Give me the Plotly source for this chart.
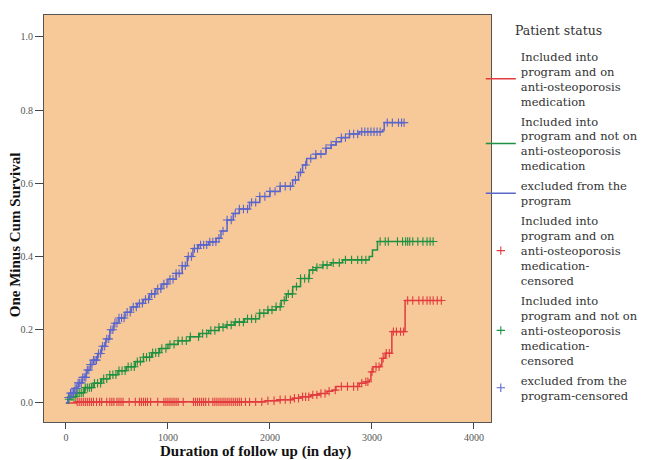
import numpy as np
import plotly.graph_objects as go

# ---- data ----
legend_title = "Patient status"
group_names = [
    "Included into<br>program and on<br>anti-osteoporosis<br>medication",
    "Included into<br>program and not on<br>anti-osteoporosis<br>medication",
    "excluded from the<br>program",
]
censor_names = [
    "Included into<br>program and on<br>anti-osteoporosis<br>medication-<br>censored",
    "Included into<br>program and not on<br>anti-osteoporosis<br>medication-<br>censored",
    "excluded from the<br>program-censored",
]
x_title = "Duration of follow up (in day)"
y_title = "One Minus Cum Survival"

red_t = [0, 100, 1960, 2100, 2223, 2300, 2400, 2484, 2560, 2614, 2647, 2875, 2940, 2973,
         2990, 3010, 3087, 3097, 3130, 3185, 3195, 3325, 3690]
red_y = [0.0, 0.003, 0.006, 0.009, 0.013, 0.017, 0.022, 0.026, 0.032, 0.035, 0.045, 0.054, 0.058, 0.063,
         0.085, 0.099, 0.104, 0.122, 0.136, 0.136, 0.195, 0.280, 0.280]

green_t = [0, 20, 40, 100, 180, 267, 350, 430, 510, 593, 680, 760, 840, 919, 1000, 1100, 1213,
           1310, 1400, 1500, 1571, 1650, 1750, 1897, 1980, 2060, 2110, 2160, 2223, 2300, 2386,
           2450, 2516, 2600, 2712, 2973, 3005, 3054, 3609]
green_y = [0.0, 0.010, 0.017, 0.028, 0.042, 0.054, 0.066, 0.077, 0.088, 0.099, 0.113, 0.125, 0.137,
           0.149, 0.160, 0.170, 0.181, 0.190, 0.198, 0.207, 0.213, 0.221, 0.230, 0.245, 0.254, 0.263,
           0.280, 0.298, 0.318, 0.340, 0.363, 0.370, 0.377, 0.383, 0.391, 0.400, 0.418, 0.441, 0.441]

blue_t = [0, 20, 40, 80, 120, 160, 200, 240, 270, 310, 350, 390, 430, 470, 520, 580, 640, 700,
          760, 820, 880, 940, 1000, 1080, 1140, 1190, 1245, 1300, 1400, 1473, 1520, 1580, 1640,
          1700, 1800, 1900, 2000, 2100, 2223, 2280, 2320, 2360, 2450, 2549, 2600, 2647, 2700,
          2780, 2875, 3103, 3120, 3315]
blue_y = [0.0, 0.015, 0.027, 0.040, 0.055, 0.070, 0.090, 0.105, 0.117, 0.135, 0.155, 0.175, 0.200,
          0.218, 0.232, 0.248, 0.262, 0.272, 0.283, 0.298, 0.312, 0.325, 0.338, 0.354, 0.375, 0.400,
          0.422, 0.432, 0.440, 0.450, 0.470, 0.500, 0.518, 0.530, 0.548, 0.564, 0.578, 0.592, 0.609,
          0.630, 0.650, 0.668, 0.680, 0.696, 0.705, 0.714, 0.725, 0.735, 0.741, 0.746, 0.766, 0.766]

red_cens = [110, 130, 150, 170, 190, 210, 230, 250, 270, 300, 330, 350, 400, 430, 450, 470, 500,
            520, 540, 560, 620, 680, 720, 740, 760, 780, 800, 830, 900, 960, 980, 1000, 1020,
            1040, 1060, 1080, 1100, 1150, 1250, 1270, 1290, 1310, 1330, 1350, 1370, 1400, 1440,
            1460, 1480, 1500, 1520, 1540, 1560, 1580, 1600, 1620, 1640, 1660, 1680, 1700, 1720,
            1760, 1800, 1860, 1920, 1980, 2040, 2100, 2150, 2200, 2240, 2280, 2320, 2350, 2380,
            2420, 2460, 2500, 2540, 2580, 2640, 2700, 2760, 2820, 2860, 2900, 2940, 2960, 3000,
            3040, 3070, 3110, 3140, 3170, 3210, 3240, 3280, 3310, 3350, 3400, 3460, 3500, 3540,
            3570, 3600, 3640, 3680]
green_cens = [30, 50, 70, 90, 110, 130, 150, 170, 190, 210, 230, 250, 280, 310, 340, 370, 400,
              430, 460, 490, 520, 550, 580, 610, 640, 670, 700, 730, 760, 790, 820, 850, 880,
              910, 940, 980, 1020, 1060, 1100, 1140, 1180, 1220, 1300, 1340, 1380, 1420, 1460,
              1500, 1540, 1580, 1620, 1660, 1700, 1740, 1780, 1820, 1860, 1900, 1940, 1980, 2020,
              2060, 2100, 2140, 2180, 2220, 2260, 2300, 2340, 2380, 2420, 2460, 2520, 2560, 2620,
              2680, 2740, 2800, 2860, 2900, 2940, 3080, 3130, 3160, 3250, 3300, 3330, 3350, 3370,
              3400, 3450, 3500, 3540, 3570, 3600]
blue_cens = [25, 45, 60, 75, 90, 105, 120, 135, 150, 165, 180, 195, 210, 225, 240, 255, 270, 285,
             300, 320, 340, 360, 380, 400, 420, 440, 460, 480, 500, 520, 545, 570, 600, 630, 660,
             690, 720, 750, 780, 810, 840, 870, 900, 930, 960, 990, 1020, 1050, 1080, 1110, 1140,
             1170, 1200, 1230, 1260, 1290, 1320, 1350, 1380, 1410, 1440, 1470, 1500, 1540, 1580,
             1620, 1660, 1700, 1740, 1780, 1820, 1860, 1900, 1950, 2000, 2050, 2100, 2150, 2200,
             2250, 2300, 2350, 2400, 2450, 2500, 2550, 2600, 2650, 2700, 2740, 2780, 2820, 2860,
             2900, 2930, 2960, 2990, 3020, 3050, 3080, 3150, 3200, 3260, 3290, 3315]

x_ticks = [0, 1000, 2000, 3000, 4000]
y_ticks = [0.0, 0.2, 0.4, 0.6, 0.8, 1.0]

colors = ["#E23B3F", "#1F9142", "#5B66CC"]
bg = "#F7C898"
serif = "Liberation Serif"
legend_font = "DejaVu Serif"


def step_value(ts, ys, t):
    idx = np.searchsorted(np.asarray(ts), t, side="right") - 1
    return np.asarray(ys)[idx]


fig = go.Figure()
curves = [(red_t, red_y), (green_t, green_y), (blue_t, blue_y)]
cens = [red_cens, green_cens, blue_cens]

for i, ((t, y), name, c) in enumerate(zip(curves, group_names, colors)):
    fig.add_trace(go.Scatter(x=t, y=y, mode="lines", line=dict(color=c, width=1.5, shape="hv"),
                             name=name, legendgroup=f"g{i}", hoverinfo="skip"))

for i, ((t, y), ct, name, c) in enumerate(zip(curves, cens, censor_names, colors)):
    cy = step_value(t, y, np.asarray(ct))
    fig.add_trace(go.Scatter(x=ct, y=cy, mode="markers", name=name, legendgroup=f"c{i}",
                             marker=dict(symbol="cross-thin", size=6, color=c,
                                         line=dict(width=1.1, color=c)),
                             hoverinfo="skip"))

fig.update_layout(
    width=641, height=452,
    margin=dict(l=36, r=157, t=7, b=38),
    paper_bgcolor="white",
    plot_bgcolor=bg,
    font=dict(family=serif, color="#222"),
    showlegend=True,
    legend=dict(
        x=0.975, xanchor="left", y=0.933, yanchor="top",
        font=dict(size=11.5, family=legend_font, color="#333"),
        itemwidth=30, tracegroupgap=2, valign="middle",
        bgcolor="rgba(0,0,0,0)",
    ),
    xaxis=dict(
        range=[-215, 4167], tickvals=x_ticks, ticktext=[str(v) for v in x_ticks],
        ticks="outside", ticklen=6, tickcolor="#444", showgrid=False, zeroline=False,
        showline=True, linecolor="#555", linewidth=1.2, mirror=True, automargin=False,
        tickfont=dict(size=10, family=serif, color="#555"),
    ),
    yaxis=dict(
        range=[-0.052, 1.060], tickvals=y_ticks, ticktext=[f"{v:.1f}" for v in y_ticks],
        ticks="outside", ticklen=8, tickcolor="#444", showgrid=False, zeroline=False,
        showline=True, linecolor="#555", linewidth=1.2, mirror=True, automargin=False,
        tickfont=dict(size=10, family=serif, color="#555"),
    ),
    annotations=[
        dict(text=legend_title, xref="paper", yref="paper", x=1.152, y=0.963,
             xanchor="center", yanchor="middle", showarrow=False,
             font=dict(size=12.5, family=legend_font, color="#333")),
        dict(text=f"<b>{x_title}</b>", xref="paper", yref="paper", x=0.473, y=-0.0737,
             xanchor="center", yanchor="middle", showarrow=False,
             font=dict(size=15, family=serif, color="#111")),
        dict(text=f"<b>{y_title}</b>", xref="paper", yref="paper", x=-0.0647, y=0.459,
             xanchor="center", yanchor="middle", showarrow=False, textangle=-90,
             font=dict(size=15, family=serif, color="#111")),
    ],
)

fig.write_html("out.html")
